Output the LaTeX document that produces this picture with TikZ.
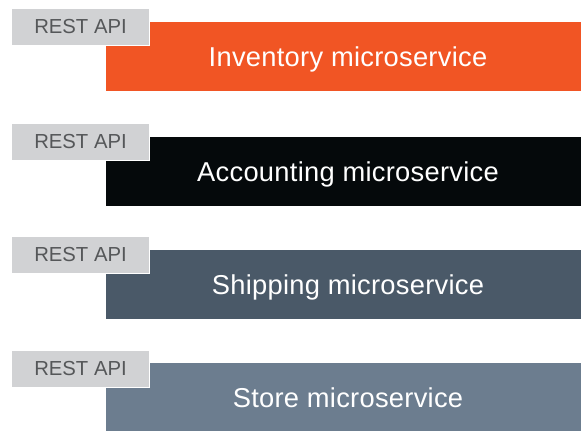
\documentclass[tikz,border=0pt]{standalone}
\usepackage{fontspec}
\setmainfont{Liberation Sans}
\newfontfamily\servicefont[LetterSpace=1]{Liberation Sans}
\definecolor{apigray}{HTML}{D1D2D4}
\definecolor{apitext}{HTML}{555759}
\definecolor{inventory}{HTML}{F15524}
\definecolor{accounting}{HTML}{05090B}
\definecolor{shipping}{HTML}{4A5968}
\definecolor{store}{HTML}{6C7D8F}
\tikzset{
  service/.style={anchor=north west, rectangle, inner sep=0pt, outer sep=0pt,
    minimum width=475pt, minimum height=69pt},
  servicetext/.style={anchor=base, text=white, inner sep=0pt,
    font=\servicefont\fontsize{27.3}{32}\selectfont},
  api/.style={anchor=north west, rectangle, inner sep=0pt, fill=apigray,
    draw=white, line width=1pt, minimum width=138pt, minimum height=37pt,
    text=apitext, font=\fontsize{20.3}{24}\selectfont},
}
\begin{document}
\begin{tikzpicture}[x=1pt,y=-1pt]
\useasboundingbox (0,0) rectangle (581,431);
% service bars
\node[service, fill=inventory]  (inv)  at (106,22)  {};
\node[service, fill=accounting] (acc)  at (106,137) {};
\node[service, fill=shipping]   (ship) at (106,250) {};
\node[service, fill=store, minimum height=70pt] (sto) at (106,363) {};
% bar captions, placed on their baselines
\node[servicetext] (invt)  at (348,66.3)  {Inventory microservice};
\node[servicetext] (acct)  at (348,181.3) {Accounting microservice};
\node[servicetext] (shipt) at (348,294.3) {Shipping microservice};
\node[servicetext] (stot)  at (348,407.3) {Store microservice};
% REST API tabs
\node[api] (api1) at (11,8)   {REST API};
\node[api] (api2) at (11,123) {REST API};
\node[api] (api3) at (11,236) {REST API};
\node[api] (api4) at (11,350) {REST API};
\end{tikzpicture}
\end{document}
